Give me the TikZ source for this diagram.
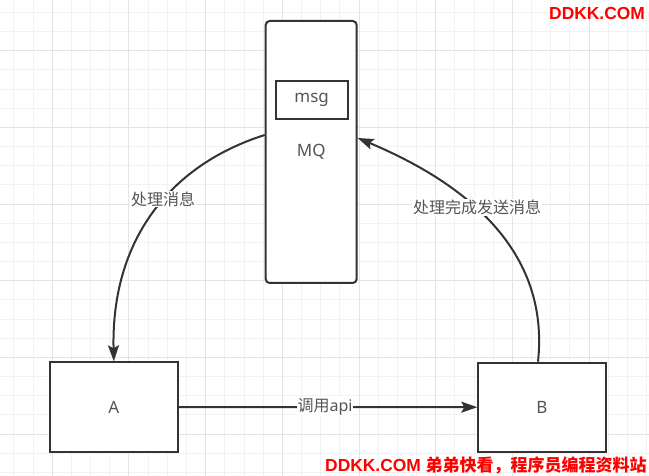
\documentclass[tikz,border=0pt]{standalone}
\usepackage{fontspec}
\setmainfont{Noto Sans}
\newfontfamily\cjk{Noto Sans CJK SC}
\newfontfamily\cjkb{Noto Sans CJK SC Bold}
\newfontfamily\wmfont{Liberation Sans}
\usetikzlibrary{arrows.meta}
\definecolor{ink}{HTML}{333333}
\definecolor{txt}{HTML}{555555}
\definecolor{gminor}{HTML}{F2F2F2}
\definecolor{gmajor}{HTML}{E4E4E4}
\definecolor{wm}{HTML}{FF0000}
\tikzset{
  box/.style={draw=ink, line width=2pt, fill=white, inner sep=0pt, text=txt, font=\fontsize{17}{17}\selectfont},
  conn/.style={draw=ink, line width=2pt, -{Stealth[length=16pt,width=11pt,inset=3pt]}},
  lbl/.style={fill=white, inner sep=1pt, text=txt, font=\fontsize{16}{16}\selectfont},
  wmark/.style={text=wm, inner sep=0pt, anchor=base west},
}
\begin{document}
\begin{tikzpicture}[x=1pt,y=-1pt]
\useasboundingbox[fill=white] (0,0) rectangle (649,476);
% grid
\foreach \i in {0,...,33} {
  \draw[gminor, line width=1pt] ({13.96+\i*19.17},0) -- ++(0,476);
}
\foreach \i in {0,...,24} {
  \draw[gminor, line width=1pt] (0,{12.36+\i*19.17}) -- ++(649,0);
}
\foreach \i in {0,...,8} {
  \draw[gmajor, line width=1pt] ({52.3+\i*76.68},0) -- ++(0,476);
}
\foreach \i in {0,...,5} {
  \draw[gmajor, line width=1pt] (0,{50.7+\i*76.68}) -- ++(649,0);
}
% nodes
\node[box, rounded corners=4pt, minimum width=91pt, minimum height=262pt] (MQ) at (311.2,152) {MQ};
\node[box, minimum width=72pt, minimum height=37.7pt] (msg) at (311.7,99.9) {msg};
\node[box, minimum width=127.7pt, minimum height=89.4pt] (A) at (113.85,407) {A};
\node[box, minimum width=127.4pt, minimum height=89pt] (B) at (542,407.2) {B};
% connectors
\draw[conn] ([yshift=17pt]MQ.west) .. controls (170,165) and (111,240) .. (A.north);
\draw[conn] ([xshift=-4pt]B.north) .. controls (550,250) and (465,183) .. ([yshift=14pt]MQ.east);
\draw[conn] (A.east) -- (B.west);
% labels
\node[lbl] (l1) at (163,199) {\cjk 处理消息};
\node[lbl] (l2) at (477,207.5) {\cjk 处理完成发送消息};
\node[lbl] (l3) at (325,406.5) {{\cjk 调用}api};
% watermarks
\node[wmark, font=\wmfont\bfseries\fontsize{17.4}{17.4}\selectfont] (w1) at (549,20) {DDKK.COM};
\node[wmark, font=\wmfont\bfseries\fontsize{17.4}{17.4}\selectfont] (w2) at (325,471.5) {DDKK.COM {\cjkb\fontsize{17}{17}\selectfont 弟弟快看，程序员编程资料站}};
\end{tikzpicture}
\end{document}
